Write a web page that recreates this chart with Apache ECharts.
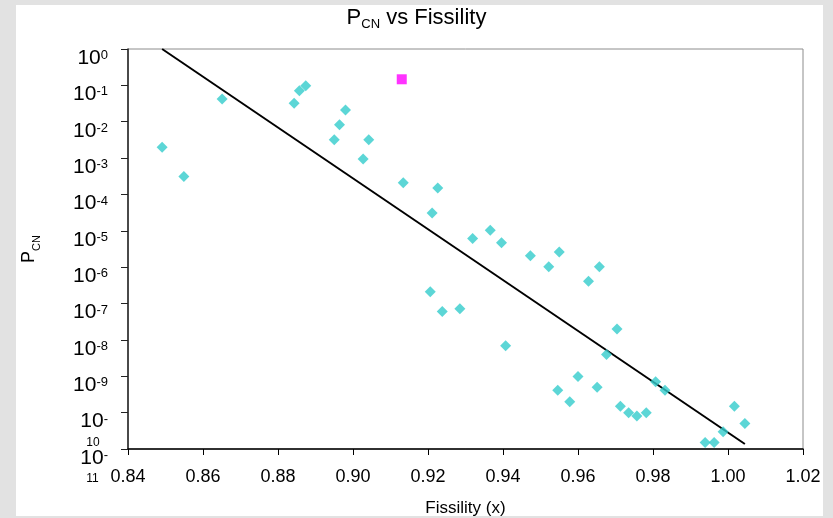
<!DOCTYPE html>
<html><head><meta charset="utf-8">
<script src="https://cdn.jsdelivr.net/npm/echarts@6/dist/echarts.min.js"></script>
<style>
html,body{margin:0;padding:0;background:#e2e2e2;width:833px;height:518px;overflow:hidden;}
#panel{position:absolute;left:16px;top:5px;width:807px;height:511px;background:#fff;}
#chart{position:absolute;left:0;top:0;width:833px;height:518px;}
</style></head><body>
<div id="panel"></div>
<div id="chart"></div>
<script>
// Fissility (x) of each nucleus
const fissility = [0.8491, 0.8549, 0.8651, 0.8843, 0.8857, 0.8874, 0.8950, 0.8964, 0.8980, 0.9027,
  0.9042, 0.9134, 0.9211, 0.9206, 0.9226, 0.9238, 0.9285, 0.9319, 0.9366, 0.9396,
  0.9407, 0.9473, 0.9522, 0.9550, 0.9546, 0.9578, 0.9600, 0.9628, 0.9651, 0.9657,
  0.9676, 0.9704, 0.9713, 0.9735, 0.9757, 0.9782, 0.9807, 0.9832, 0.9939, 0.9963,
  0.9987, 1.0017, 1.0045];
// P_CN values
const pcn = [2.0e-3, 3.1e-4, 4.2e-2, 3.2e-2, 7.1e-2, 9.8e-2, 3.2e-3, 8.3e-3, 2.1e-2, 9.5e-4,
  3.2e-3, 2.1e-4, 3.1e-5, 2.1e-7, 1.5e-4, 6.0e-8, 7.2e-8, 6.1e-6, 1.04e-5, 4.7e-6,
  6.9e-9, 2.05e-6, 1.03e-6, 2.6e-6, 4.1e-10, 2.0e-10, 9.9e-10, 4.1e-7, 5.0e-10, 1.03e-6,
  4.0e-9, 2.0e-8, 1.5e-10, 9.9e-11, 8.1e-11, 1.0e-10, 7.1e-10, 4.1e-10, 1.5e-11, 1.5e-11,
  3.0e-11, 1.5e-10, 5.0e-11];
// Highlighted point (magenta square)
const highlightX = [0.9130];
const highlightY = [0.147];
// Fitted trend line end points
const fitX = [0.8491, 1.0045];
const fitY = [1.0, 1.37e-11];

const FONT = '"Liberation Sans", Arial, sans-serif';

const yRich = {
  b: {fontFamily: FONT, fontSize: 21, color: '#000', lineHeight: 18},
  s: {fontFamily: FONT, fontSize: 13, color: '#000', lineHeight: 9, verticalAlign: 'top'},
  t: {fontFamily: FONT, fontSize: 12, color: '#000', lineHeight: 24, align: 'left', padding: [0, 0, 0, 6]},
  e: {fontFamily: FONT, fontSize: 13, color: '#000', lineHeight: 24}
};
function yLabel(v) {
  const e = Math.round(Math.log10(v));
  if (e <= -10) return '{e| }\n{b|10}{s|-}\n{t|' + (-e) + '}';
  return '{b|10}{s|' + e + '}';
}
const yBase = {
  type: 'log', logBase: 10, min: 1e-11, max: 1, interval: 1, position: 'left', offset: 0,
  splitLine: {show: false},
  minorTick: {show: false},
  axisTick: {show: true, inside: false, length: 7, lineStyle: {color: '#222'}}
};

const chart = echarts.init(document.getElementById('chart'), null, {renderer: 'canvas'});
chart.setOption({
  backgroundColor: 'transparent',
  animation: false,
  title: {
    text: '{a|P}{sub|CN}{a| vs Fissility}',
    left: 'center',
    top: 7,
    padding: 0,
    textStyle: {
      fontWeight: 'normal',
      rich: {
        a: {fontFamily: FONT, fontSize: 22, fontWeight: 'normal', color: '#000', lineHeight: 24, verticalAlign: 'top'},
        sub: {fontFamily: FONT, fontSize: 13, fontWeight: 'normal', color: '#000', lineHeight: 12, verticalAlign: 'bottom'}
      }
    }
  },
  grid: {left: 128, top: 49, right: 30, bottom: 69, containLabel: false, outerBoundsMode: 'none',
    show: true, borderColor: '#8c8c8c', borderWidth: 1, backgroundColor: 'transparent'},
  xAxis: {
    type: 'value', min: 0.84, max: 1.02, interval: 0.02,
    name: 'Fissility (x)', nameLocation: 'middle', nameGap: 51,
    nameTextStyle: {fontFamily: FONT, fontSize: 17, color: '#000'},
    axisLine: {show: true, onZero: false, lineStyle: {color: '#000', width: 1.5}},
    axisTick: {show: true, inside: false, length: 6, lineStyle: {color: '#000'}},
    splitLine: {show: false},
    axisLabel: {fontFamily: FONT, fontSize: 18, color: '#000', margin: 19,
      formatter: v => v.toFixed(2)}
  },
  yAxis: [
    Object.assign({}, yBase, {
      name: '{a|P}{sub|CN}', nameLocation: 'middle', nameGap: 86, nameRotate: 90,
      nameTextStyle: {
        rich: {
          a: {fontFamily: FONT, fontSize: 18, color: '#000', lineHeight: 22, verticalAlign: 'top'},
          sub: {fontFamily: FONT, fontSize: 11, color: '#000', lineHeight: 11, verticalAlign: 'bottom'}
        }
      },
      axisLine: {show: true, onZero: false, lineStyle: {color: '#222', width: 1.5}},
      axisLabel: {
        margin: 20, padding: [18, 0, 0, 0],
        showMinLabel: false,
        formatter: v => (Math.round(Math.log10(v)) === -11 ? '' : yLabel(v)),
        rich: yRich
      }
    }),
    Object.assign({}, yBase, {
      axisLine: {show: false},
      axisLabel: {
        margin: 20, padding: [18, 0, 0, 0],
        showMinLabel: true, showMaxLabel: false,
        formatter: v => (Math.round(Math.log10(v)) === -11 ? yLabel(v) : ''),
        rich: yRich
      }
    })
  ],
  series: [
    {
      type: 'line', data: fitX.map((x, i) => [x, fitY[i]]), yAxisIndex: 0,
      showSymbol: false, symbol: 'none', lineStyle: {color: '#000', width: 2}, z: 2, silent: true
    },
    {
      type: 'scatter', data: fissility.map((x, i) => [x, pcn[i]]), yAxisIndex: 0,
      symbol: 'diamond', symbolSize: 11, itemStyle: {color: '#33CCCC'}, z: 3
    },
    {
      type: 'scatter', data: highlightX.map((x, i) => [x, highlightY[i]]), yAxisIndex: 0,
      symbol: 'rect', symbolSize: 10, itemStyle: {color: '#FF00FF'}, z: 3
    }
  ]
});
</script>
</body></html>
